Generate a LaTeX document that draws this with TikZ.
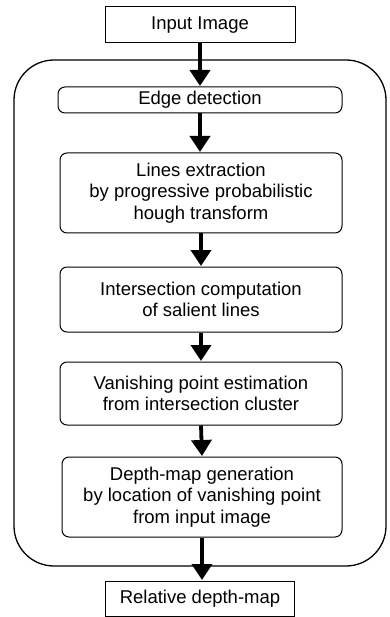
\documentclass[tikz,border=0pt]{standalone}
\usepackage{fontspec}
\setmainfont{Liberation Sans}
\usetikzlibrary{arrows.meta}
\tikzset{
  box/.style={draw, line width=1pt, align=center, inner sep=0pt, font=\fontsize{18.5}{21.5}\selectfont},
  rbox/.style={box, rounded corners=7pt},
  flow/.style={line width=3.8pt, -{Triangle[width=20pt,length=16pt]}, shorten >=0.5pt},
}
\begin{document}
\begin{tikzpicture}[x=1pt,y=-1pt]
\useasboundingbox (0,0) rectangle (389,617);
\draw[line width=1.3pt, rounded corners=40pt] (14,60) rectangle (386,566);
\node[box, minimum width=190pt, minimum height=36pt] (in) at (200,25) {Input Image};
\node[rbox, minimum width=284pt, minimum height=26pt] (edge) at (200,100) {Edge detection};
\node[rbox, minimum width=282pt, minimum height=80pt] (lines) at (201,193) {Lines extraction\\by progressive probabilistic\\hough transform};
\node[rbox, minimum width=282pt, minimum height=65pt] (inter) at (201,299.5) {Intersection computation\\of salient lines};
\node[rbox, minimum width=282pt, minimum height=63pt] (van) at (201,393.5) {Vanishing point estimation\\from intersection cluster};
\node[rbox, minimum width=280pt, minimum height=80pt] (depth) at (202,497) {Depth-map generation\\by location of vanishing point\\from input image};
\node[box, minimum width=189pt, minimum height=35pt] (rel) at (200,598.5) {Relative depth-map};
\draw[flow] (in.south) -- (edge.north);
\draw[flow] (edge.south) -- (edge.south |- lines.north);
\draw[flow] (lines.south) -- (inter.north);
\draw[flow] (inter.south) -- (van.north);
\draw[flow] (van.south) -- (depth.north);
\draw[flow] (depth.south) -- (depth.south |- rel.north);
\end{tikzpicture}
\end{document}
